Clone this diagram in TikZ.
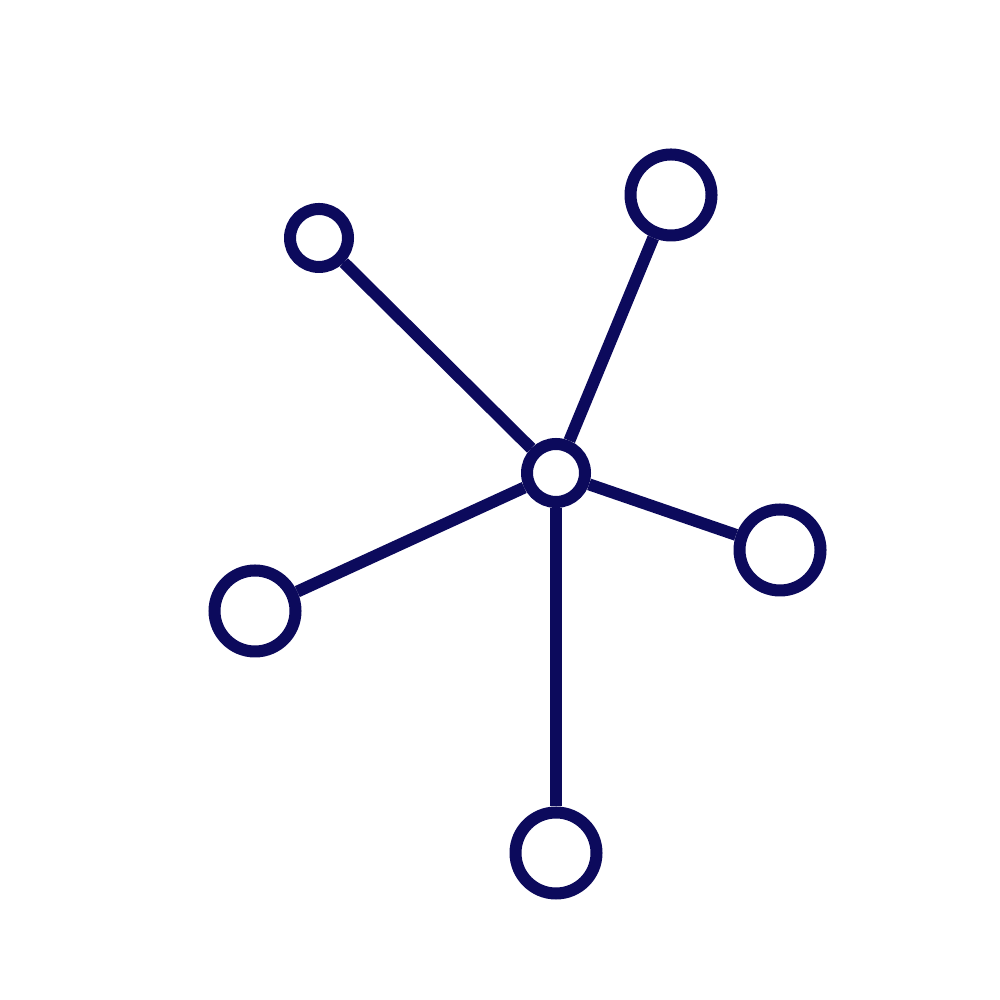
\documentclass[tikz,border=0pt]{standalone}
\usetikzlibrary{calc}
\definecolor{navy}{RGB}{12,10,92}

\begin{document}
\begin{tikzpicture}
  \useasboundingbox (0,0) rectangle (10,10);
  \begin{scope}[
    every node/.style={
      draw=navy,
      fill=white,
      circle,
      line width=0.12cm,
      inner sep=0pt,
    },
    small/.style={minimum size=0.58cm},
    big/.style={minimum size=0.81cm},
    ]
    \node[small](hub) at (5.56,5.27) {};
    \node[small](leafa) at (3.19,7.62) {};
    \node[big](leafb) at (6.71,8.05) {};
    \node[big](leafc) at (7.80,4.50) {};
    \node[big](leafd) at (2.55,3.89) {};
    \node[big](leafe) at (5.56,1.47) {};
  \end{scope}
  \begin{scope}[every path/.style={draw=navy,line width=0.12cm}]
    \foreach \i in {a,b,c,d,e}{
      \path (hub) -- (leaf\i);
    }
  \end{scope}
\end{tikzpicture}
\end{document}
